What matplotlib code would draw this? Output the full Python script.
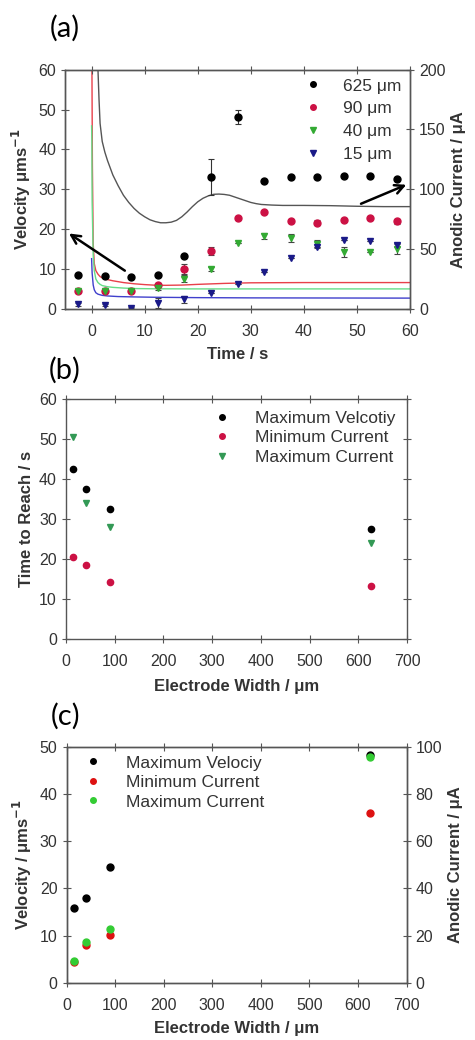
import matplotlib.pyplot as plt
from matplotlib.lines import Line2D

plt.rcParams["font.family"] = ["Liberation Sans", "DejaVu Sans"]

# (a) velocity samples every 5 s for each electrode width
t_vel = [-2.5, 2.5, 7.5, 12.5, 17.5, 22.5, 27.5, 32.5, 37.5, 42.5, 47.5, 52.5, 57.5]
vel_625 = [8.5, 8.3, 8.0, 8.5, 13.2, 33.1, 48.2, 32.1, 33.1, 33.0, 33.3, 33.3, 32.6]
err_625 = [0, 0, 0, 0, 0, 4.5, 1.8, 0, 0, 0, 0, 0, 0]
vel_90 = [4.6, 4.6, 4.6, 6.0, 10.0, 14.4, 22.7, 24.3, 22.0, 21.6, 22.3, 22.8, 22.0]
err_90 = [0, 0, 0, 0.5, 1.3, 1.0, 0, 0, 0, 0.6, 0, 0, 0.6]
vel_40 = [4.6, 4.6, 4.6, 5.2, 7.6, 10.0, 16.6, 18.3, 17.8, 16.3, 14.3, 14.2, 15.0]
err_40 = [0, 0, 0, 0.5, 0.8, 0.5, 0, 0.8, 0.9, 1.0, 1.2, 0, 1.2]
vel_15 = [1.1, 0.9, 0.3, 1.5, 2.4, 4.1, 6.3, 9.2, 12.7, 15.5, 17.4, 17.0, 16.0]
err_15 = [0.3, 0.3, 0.2, 1.2, 0.9, 0, 0, 0, 0, 0, 0, 0, 0.5]

# (a) anodic current transients
t_i625 = [0.8, 1.0, 1.2, 1.4, 1.6, 2.0, 2.5, 3.0, 4.0, 5.0, 6.0, 7.0, 8.0, 9.0, 10, 11,
          12, 13, 14, 15, 16, 17, 18, 19, 20, 21, 22, 23, 24, 25, 26, 27, 28, 29, 30,
          31, 32, 34, 36, 40, 45, 50, 55, 60]
i_625 = [260, 225, 200, 175, 155, 140, 131, 124, 112, 103, 95, 89, 84, 80, 77, 74.5,
         73, 72, 72, 72.5, 74, 77, 81, 85.5, 89.5, 92.5, 94.5, 95.8, 96, 95.7, 95, 93.5,
         92, 90.5, 89, 88, 87.3, 86.8, 86.5, 86.5, 86.3, 85.8, 85.5, 85.5]
t_i90 = [0.0, 0.15, 0.3, 0.5, 0.8, 1.2, 1.6, 2.0, 3, 4, 6, 8, 10, 12, 14, 17, 20, 25,
         30, 40, 50, 60]
i_90 = [260, 120, 55, 38, 32, 29, 27, 26, 24.5, 23.5, 22, 21, 20.3, 19.8, 19.7, 19.9,
        20.5, 21.3, 21.8, 22, 22, 22]
t_i40 = [0.0, 0.05, 0.1, 0.3, 0.5, 0.8, 1.2, 1.6, 2, 3, 4, 6, 8, 12, 20, 30, 40, 60]
i_40 = [153, 140, 90, 45, 32, 25, 22, 20.5, 19.5, 18.5, 18, 17.4, 17, 16.8, 16.7,
        16.7, 16.7, 16.7]
t_i15 = [0.0, 0.1, 0.3, 0.5, 0.8, 1.2, 2, 3, 5, 8, 12, 20, 30, 45, 60]
i_15 = [42, 30, 20, 16, 13.5, 12.3, 11.3, 10.8, 10.3, 10.0, 9.7, 9.4, 9.2, 9.1, 9.0]

# (b) time to reach each feature vs electrode width
widths = [15, 40, 90, 625]
t_max_vel = [42.5, 37.5, 32.5, 27.5]
t_min_cur = [20.5, 18.5, 14.3, 13.2]
t_max_cur = [50.5, 34.0, 28.0, 24.0]

# (c) magnitudes vs electrode width
max_vel = [15.8, 17.9, 24.5, 48.2]
min_cur = [8.8, 16.0, 20.2, 71.8]
max_cur = [9.1, 17.1, 22.8, 95.6]

AX_COL = "#555555"
TXT_COL = "#333333"
LBL = dict(fontsize=12, fontweight="bold", color=TXT_COL)
LEG = dict(frameon=False, fontsize=12.5, borderaxespad=0.1)


def style(ax, right=True):
    for s in ax.spines.values():
        s.set_color(AX_COL)
        s.set_linewidth(1.0)
    ax.tick_params(direction="inout", length=6, width=0.8, color=AX_COL,
                   labelsize=11.5, labelcolor=TXT_COL, top=True, right=right)
    ax.tick_params(axis="x", pad=8)


def grey_text(leg):
    for txt in leg.get_texts():
        txt.set_color(TXT_COL)


def dot(marker, color, ms=4):
    return Line2D([], [], ls="none", marker=marker, color=color, ms=ms)


fig = plt.figure(figsize=(4.75, 10.4), dpi=100)

# ---- (a)
ax = fig.add_axes([0.137, 0.703, 0.726, 0.230])
axr = ax.twinx()
style(ax, right=False)
style(axr, right=True)
axr.tick_params(top=False, left=False)

axr.plot(t_i625, i_625, color="#555555", lw=1.0)
axr.plot(t_i90, i_90, color="#e8404a", lw=1.0)
axr.plot(t_i40, i_40, color="#66dd88", lw=1.0)
axr.plot(t_i15, i_15, color="#4040cc", lw=1.0)
axr.set_ylim(0, 200)
axr.set_yticks([0, 50, 100, 150, 200])
axr.set_ylabel("Anodic Current / μA", **LBL)

eb = dict(ls="none", ms=5, capsize=2, elinewidth=0.8, capthick=0.8)
ax.errorbar(t_vel, vel_625, yerr=err_625, marker="o", color="black", ecolor="#333333", **eb)
ax.errorbar(t_vel, vel_90, yerr=err_90, marker="o", color="#cc1144", ecolor="#444444", **eb)
ax.errorbar(t_vel, vel_40, yerr=err_40, marker="v", color="#33aa33", ecolor="#444444", **eb)
ax.errorbar(t_vel, vel_15, yerr=err_15, marker="v", color="#1a1a88", ecolor="#444444", **eb)
ax.set_zorder(axr.get_zorder() + 1)
ax.patch.set_visible(False)
ax.set_xlim(-5, 60)
ax.set_ylim(0, 60)
ax.set_xticks(range(0, 61, 10))
ax.set_yticks(range(0, 61, 10))
ax.set_xlabel("Time / s", labelpad=6, **LBL)
ax.set_ylabel("Velocity μms$^{\\mathbf{-1}}$", **LBL)
handles = [dot("o", "black"), dot("o", "#cc1144"), dot("v", "#33aa33"), dot("v", "#1a1a88")]
grey_text(ax.legend(handles, ["625 μm", "90 μm", "40 μm", "15 μm"], loc="upper right",
                    handletextpad=0.7, labelspacing=0.45, borderpad=0.4, **LEG))

arrow = dict(arrowstyle="->", color="black", lw=1.8, mutation_scale=16)
ax.annotate("", xy=(-4.7, 19.3), xytext=(6.7, 9.2), arrowprops=arrow)
ax.annotate("", xy=(59.8, 31.4), xytext=(50.3, 26.1), arrowprops=arrow)

# ---- (b)
bx = fig.add_axes([0.139, 0.386, 0.718, 0.230])
style(bx)
bx.plot(widths, t_max_vel, "o", color="black", ms=4.5)
bx.plot(widths, t_min_cur, "o", color="#cc1144", ms=4.5)
bx.plot(widths, t_max_cur, "v", color="#339955", ms=5)
bx.set_xlim(0, 700)
bx.set_ylim(0, 60)
bx.set_xticks(range(0, 701, 100))
bx.set_yticks(range(0, 61, 10))
bx.set_xlabel("Electrode Width / μm", labelpad=7, **LBL)
bx.set_ylabel("Time to Reach / s", **LBL)
handles = [dot("o", "black"), dot("o", "#cc1144"), dot("v", "#339955")]
grey_text(bx.legend(handles, ["Maximum Velcotiy", "Minimum Current", "Maximum Current"],
                    loc="upper right", handletextpad=0.9, labelspacing=0.25,
                    borderpad=0.55, **LEG))

# ---- (c)
cx = fig.add_axes([0.140, 0.055, 0.716, 0.227])
cxr = cx.twinx()
style(cx, right=False)
style(cxr, right=True)
cxr.tick_params(top=False, left=False)
cx.plot(widths, max_vel, "o", color="black", ms=5)
cxr.plot(widths, min_cur, "o", color="#dd1111", ms=5)
cxr.plot(widths, max_cur, "o", color="#33cc33", ms=5)
cx.set_xlim(0, 700)
cx.set_ylim(0, 50)
cxr.set_ylim(0, 100)
cx.set_xticks(range(0, 701, 100))
cx.set_yticks(range(0, 51, 10))
cxr.set_yticks(range(0, 101, 20))
cx.set_xlabel("Electrode Width / μm", labelpad=6, **LBL)
cx.set_ylabel("Velocity / μms$^{\\mathbf{-1}}$", **LBL)
cxr.set_ylabel("Anodic Current / μA", **LBL)
handles = [dot("o", "black"), dot("o", "#dd1111"), dot("o", "#33cc33")]
grey_text(cxr.legend(handles, ["Maximum Velociy", "Minimum Current", "Maximum Current"],
                     loc="upper left", handletextpad=0.9, labelspacing=0.25,
                     borderpad=0.4, **LEG))

# panel letters
for lab, y in [("(a)", 0.973), ("(b)", 0.644), ("(c)", 0.311)]:
    fig.text(0.137, y, lab, fontsize=21, family=["Lato", "DejaVu Sans"],
             ha="center", va="center", color="black")

fig.savefig("out.png", dpi=100)
